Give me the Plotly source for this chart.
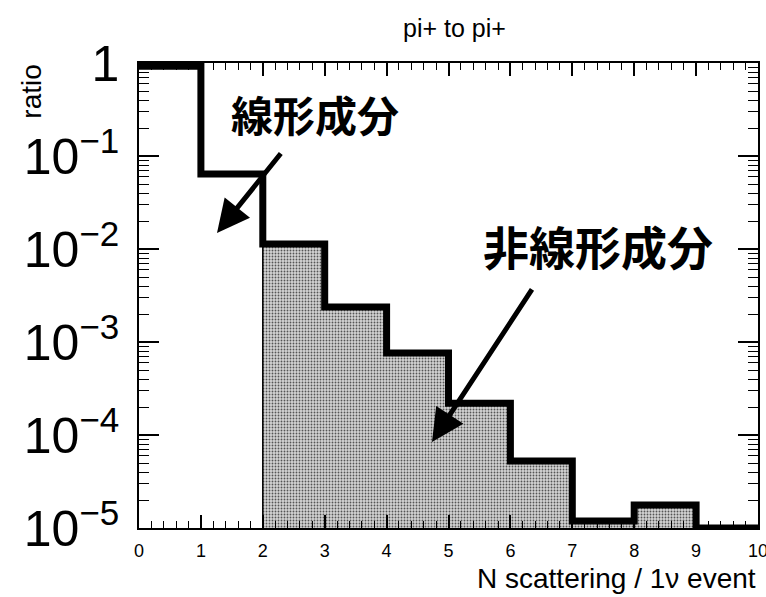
import plotly.graph_objects as go

# ---- data ----
bin_edges = [0, 1, 2, 3, 4, 5, 6, 7, 8, 9, 10]
ratio_all = [0.92, 0.064, 0.0113, 0.00238, 7.6e-4, 2.2e-4, 5.25e-5, 1.19e-5, 1.77e-5, 1.0e-5]
nonlinear_start_bin = 2
y_floor = 1e-5

y_major_vals = [1e-5, 1e-4, 1e-3, 1e-2, 1e-1, 1]
y_major_text = ["10<sup>−5</sup>", "10<sup>−4</sup>", "10<sup>−3</sup>",
                "10<sup>−2</sup>", "10<sup>−1</sup>", "1"]
y_minor_vals = [k * 10.0 ** e for e in range(-5, 0) for k in range(2, 10)]

title_text = "pi+ to pi+"
x_title = "N scattering / 1ν event"
y_title = "ratio"
label_linear = "線形成分"
label_nonlinear = "非線形成分"

FONT = "Liberation Sans, Arial, Helvetica, sans-serif"
CJK = "Noto Sans CJK JP, Noto Sans CJK SC, sans-serif"

fig = go.Figure()

# filled non-linear component polygon (built from the data)
px_, py_ = [bin_edges[nonlinear_start_bin]], [y_floor]
for i in range(nonlinear_start_bin, len(ratio_all)):
    px_ += [bin_edges[i], bin_edges[i + 1]]
    py_ += [ratio_all[i], ratio_all[i]]
px_ += [bin_edges[-1]]
py_ += [y_floor]
fig.add_trace(go.Scatter(
    x=px_, y=py_, mode="lines", fill="toself",
    fillcolor="#c4c4c4",
    fillpattern=dict(shape=".", fgcolor="#555555", bgcolor="#d4d4d4",
                     size=3, solidity=0.3, fillmode="replace"),
    line=dict(color="black", width=1.5),
    hoverinfo="skip", showlegend=False))

# step histogram outline
fig.add_trace(go.Scatter(
    x=bin_edges, y=ratio_all + [ratio_all[-1]], mode="lines",
    line=dict(color="black", width=7, shape="hv"),
    showlegend=False))

fig.update_layout(
    width=766, height=597,
    margin=dict(l=139, r=8, t=63, b=69, autoexpand=False),
    paper_bgcolor="white", plot_bgcolor="white",
    font=dict(family=FONT, color="black"),
    showlegend=False,
)

fig.update_xaxes(
    range=[0, 10], showgrid=False, zeroline=False, automargin=False,
    showline=True, linecolor="black", linewidth=1.5, mirror="allticks",
    ticks="inside", ticklen=13, tickwidth=1.5, tickcolor="black",
    tickmode="linear", tick0=0, dtick=1,
    tickfont=dict(size=18, family=FONT), ticklabelstandoff=6,
    ticklabeloverflow="allow",
    minor=dict(ticks="inside", ticklen=7, tickwidth=1.2, tickcolor="black",
               dtick=0.2, tick0=0, showgrid=False),
)
fig.update_yaxes(
    type="log", range=[-5, 0], showgrid=False, zeroline=False, automargin=False,
    showline=True, linecolor="black", linewidth=1.5, mirror="allticks",
    ticks="inside", ticklen=20, tickwidth=1.5, tickcolor="black",
    tickmode="array", tickvals=y_major_vals, ticktext=y_major_text,
    tickfont=dict(size=50, family=FONT), ticklabelstandoff=8,
    ticklabeloverflow="allow",
    minor=dict(ticks="inside", ticklen=10, tickwidth=1.2, tickcolor="black",
               tickmode="array", tickvals=y_minor_vals, showgrid=False),
)

# titles
fig.add_annotation(text=title_text, xref="paper", yref="paper",
                   x=0.51, y=1.075, showarrow=False,
                   font=dict(size=25, family=FONT), xanchor="center", yanchor="middle")
fig.add_annotation(text=x_title, xref="paper", yref="paper",
                   x=1.0, y=-0.108, showarrow=False,
                   font=dict(size=28, family=FONT), xanchor="right", yanchor="middle")
fig.add_annotation(text=y_title, xref="paper", yref="paper",
                   x=-0.175, y=1.0, showarrow=False, textangle=-90,
                   font=dict(size=28, family=FONT), xanchor="center", yanchor="top")

# labels
fig.add_annotation(text="<b>" + label_linear + "</b>", x=2.843, y=-0.538, xref="x", yref="y",
                   showarrow=False, font=dict(size=42, family=CJK, color="black"),
                   xanchor="center", yanchor="middle")
fig.add_annotation(text="<b>" + label_nonlinear + "</b>", x=7.415, y=-1.957, xref="x", yref="y",
                   showarrow=False, font=dict(size=46, family=CJK, color="black"),
                   xanchor="center", yanchor="middle")

# arrows
fig.add_annotation(text="", x=1.26, y=-1.828, xref="x", yref="y",
                   ax=65, ay=-81, showarrow=True, arrowhead=2, arrowsize=1.3,
                   arrowwidth=5, arrowcolor="black")
fig.add_annotation(text="", x=4.733, y=-4.075, xref="x", yref="y",
                   ax=101, ay=-154, showarrow=True, arrowhead=2, arrowsize=1.3,
                   arrowwidth=5, arrowcolor="black")

fig.write_html("out.html")
